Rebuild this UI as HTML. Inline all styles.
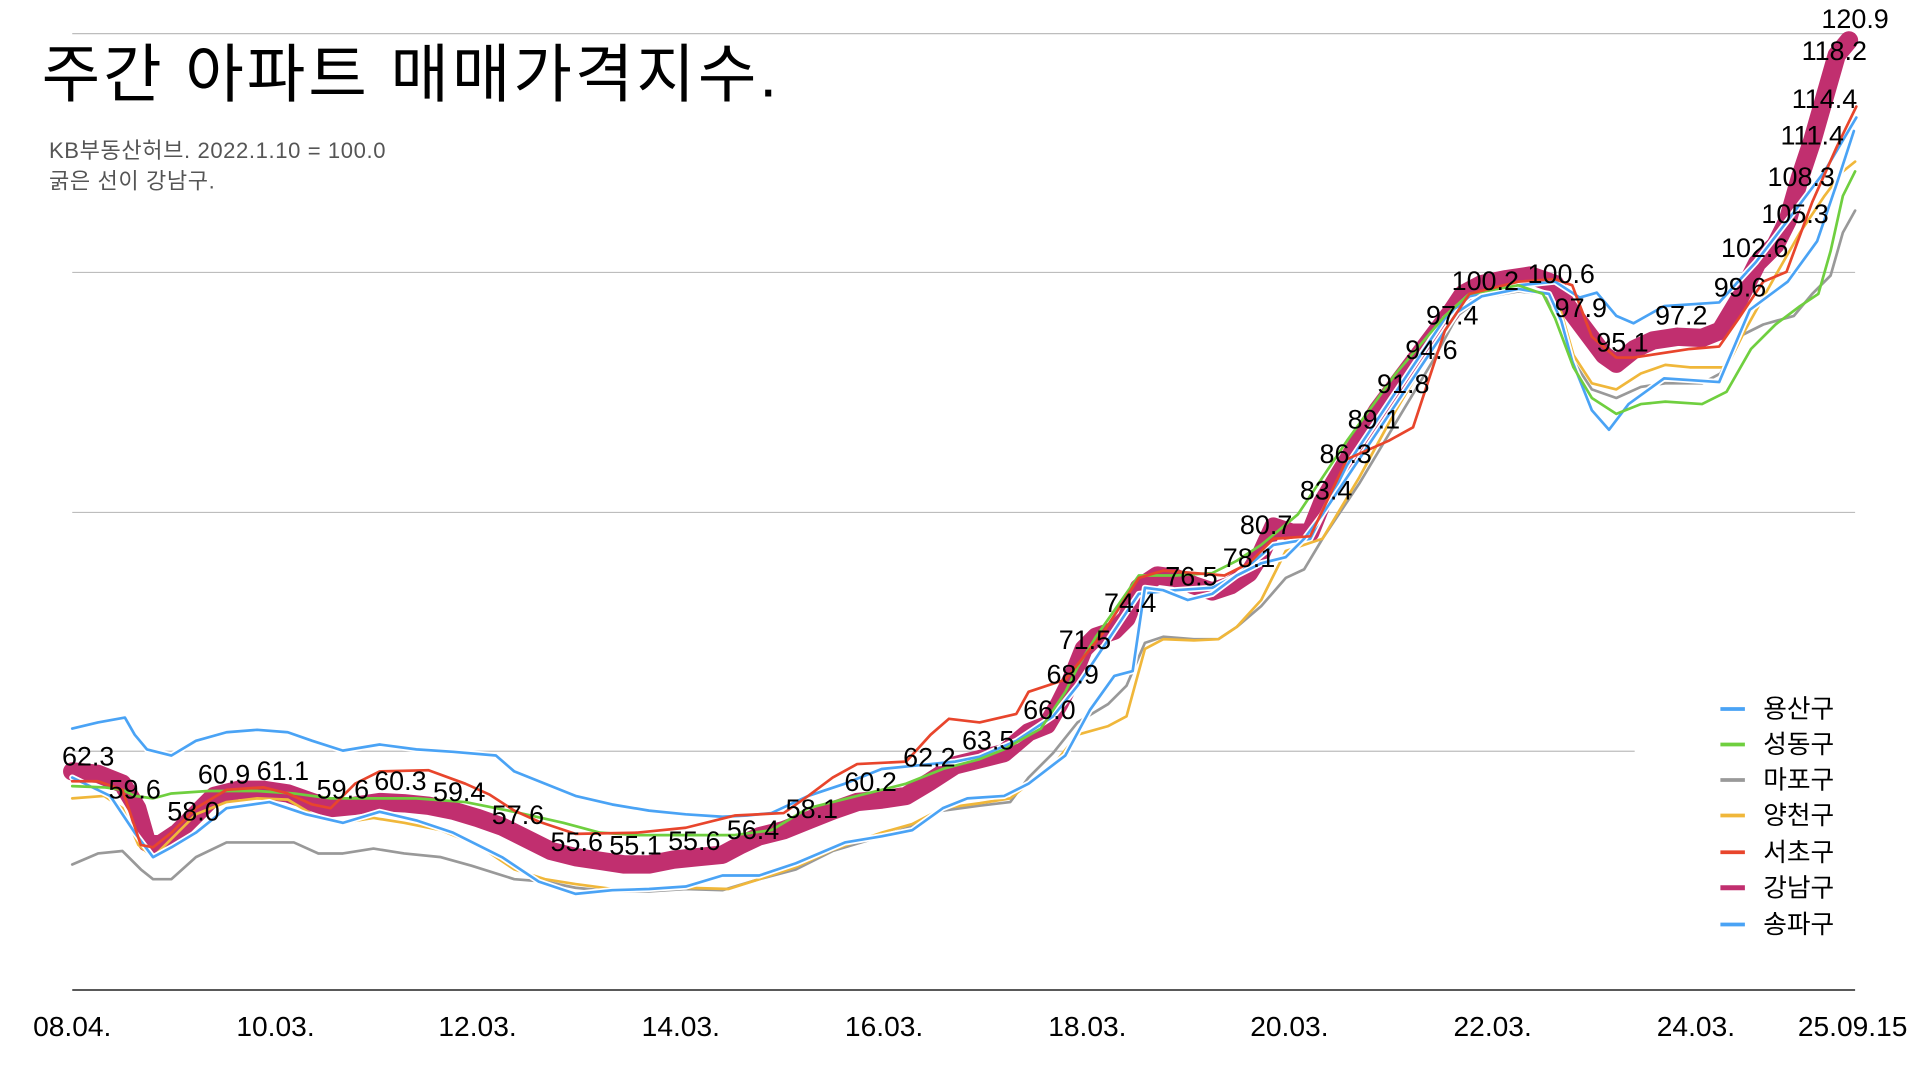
<!DOCTYPE html>
<html><head><meta charset="utf-8"><style>
html,body{margin:0;padding:0;background:#fff;}
svg{display:block;}
text{font-family:"Liberation Sans","Noto Sans CJK KR",sans-serif;}
</style></head><body>
<svg width="1920" height="1080" viewBox="0 0 1568 882" xmlns="http://www.w3.org/2000/svg">
<rect width="1568" height="882" fill="#fff"/>
<g stroke="#bdbdbd" stroke-width="1">
<line x1="59" y1="27.5" x2="1515" y2="27.5"/>
<line x1="59" y1="222.5" x2="1515" y2="222.5"/>
<line x1="59" y1="418.5" x2="1515" y2="418.5"/>
<line x1="59" y1="613.5" x2="1335" y2="613.5"/>
</g>
<line x1="59" y1="808.5" x2="1515" y2="808.5" stroke="#222" stroke-width="1.2"/>
<text x="34" y="79" font-size="52" fill="#000" letter-spacing="2.4">주간 아파트 매매가격지수.</text>
<text x="40" y="129" font-size="18" fill="#555" letter-spacing="0.5">KB부동산허브. 2022.1.10 = 100.0</text>
<text x="40" y="154" font-size="18" fill="#555" letter-spacing="0.5">굵은 선이 강남구.</text>
<g font-size="23" fill="#000" text-anchor="middle">
<text x="59" y="846">08.04.</text><text x="225" y="846">10.03.</text><text x="390" y="846">12.03.</text><text x="556" y="846">14.03.</text><text x="722" y="846">16.03.</text><text x="888" y="846">18.03.</text><text x="1053" y="846">20.03.</text><text x="1219" y="846">22.03.</text><text x="1385" y="846">24.03.</text><text x="1513" y="846">25.09.15</text>
</g>
<g fill="none" stroke-linejoin="round" stroke-linecap="round">
<polyline stroke="#c12f6f" stroke-width="15" points="59,630 80,632 100,640 112,660 120,688 130,690 145,680 160,665 175,650 195,645 215,645 235,648 255,655 270,660 290,658 310,655 330,656 350,658 370,662 390,668 410,675 430,685 450,695 470,700 490,703 510,706 530,706 550,702 570,700 590,698 605,690 620,683 640,678 660,670 680,662 700,655 720,653 740,650 760,638 780,625 800,620 820,615 840,598 855,592 865,575 875,555 885,530 895,520 910,515 920,505 930,480 945,470 960,472 975,478 990,483 1005,478 1020,468 1030,452 1040,430 1055,435 1070,435 1080,410 1095,385 1110,360 1125,335 1140,315 1155,295 1170,275 1185,255 1195,240 1210,232 1230,228 1250,225 1270,232 1280,250 1295,270 1310,290 1320,297 1335,285 1350,278 1370,275 1390,276 1405,270 1420,245 1435,215 1450,200 1460,180 1470,145 1480,115 1490,80 1500,45 1510,33"/>
<polyline stroke="#fff" stroke-width="5" points="59,595 80,590 102,586 110,600 120,612 140,617 160,605 185,598 210,596 235,598 255,605 280,613 310,608 340,612 370,614 405,617 420,630 445,640 470,650 500,657 530,662 560,665 590,667 610,666 630,664 660,650 690,640 720,628 750,625 780,622 800,618 830,605 860,585 880,560 900,530 930,485 960,482 990,480 1010,470 1040,445 1070,440 1100,380 1140,320 1180,260 1200,242 1240,233 1270,230 1290,243 1304,239 1320,258 1334,264 1359,250 1404,247 1434,214 1460,180 1490,140 1516,96"/>
<polyline stroke="#4aa3f5" stroke-width="2.2" points="59,595 80,590 102,586 110,600 120,612 140,617 160,605 185,598 210,596 235,598 255,605 280,613 310,608 340,612 370,614 405,617 420,630 445,640 470,650 500,657 530,662 560,665 590,667 610,666 630,664 660,650 690,640 720,628 750,625 780,622 800,618 830,605 860,585 880,560 900,530 930,485 960,482 990,480 1010,470 1040,445 1070,440 1100,380 1140,320 1180,260 1200,242 1240,233 1270,230 1290,243 1304,239 1320,258 1334,264 1359,250 1404,247 1434,214 1460,180 1490,140 1516,96"/>
<polyline stroke="#999" stroke-width="2.2" points="59,706 80,697 100,695 115,710 125,718 140,718 160,700 185,688 210,688 240,688 260,697 280,697 305,693 330,697 360,700 385,707 420,718 445,720 470,725 500,728 530,728 560,726 590,727 620,718 650,710 680,695 720,683 745,675 770,662 800,658 825,655 840,635 860,615 880,590 905,575 920,560 935,525 950,520 975,522 995,522 1010,512 1030,495 1050,472 1065,465 1080,440 1110,395 1140,345 1170,295 1190,258 1210,243 1240,238 1260,240 1275,260 1285,295 1300,318 1320,325 1340,316 1360,313 1390,313 1405,305 1420,275 1440,265 1465,258 1480,240 1495,225 1505,190 1515,172"/>
<polyline stroke="#f0b73a" stroke-width="2.2" points="59,652 85,650 100,660 113,690 125,700 140,685 160,665 185,655 210,652 235,653 255,665 280,672 305,668 330,672 360,678 390,690 420,710 445,718 470,722 500,726 530,727 560,725 595,726 620,718 650,708 680,694 720,680 745,673 770,660 800,656 825,652 840,640 860,625 880,600 905,593 920,585 935,530 950,522 975,523 995,522 1010,512 1030,490 1050,450 1080,440 1110,390 1140,335 1170,285 1190,255 1210,240 1240,235 1265,240 1275,255 1285,290 1300,313 1320,318 1340,305 1360,298 1380,300 1410,300 1425,270 1450,225 1470,190 1490,160 1505,140 1515,132"/>
<polyline stroke="#fff" stroke-width="5" points="59,635 90,650 110,680 125,700 140,692 160,680 185,660 220,655 250,665 280,672 310,663 340,670 370,680 410,700 440,720 470,730 500,727 530,726 560,724 590,715 620,715 650,705 690,688 720,683 745,678 770,660 790,652 820,650 840,640 870,617 890,580 910,552 925,548 935,480 950,482 970,490 990,485 1010,470 1030,460 1050,455 1065,440 1080,420 1110,375 1140,330 1170,285 1190,255 1210,242 1240,236 1265,240 1275,262 1284,295 1300,335 1314,351 1330,330 1359,309 1404,312 1429,253 1460,230 1484,197 1500,150 1514,107"/>
<polyline stroke="#4aa3f5" stroke-width="2.2" points="59,635 90,650 110,680 125,700 140,692 160,680 185,660 220,655 250,665 280,672 310,663 340,670 370,680 410,700 440,720 470,730 500,727 530,726 560,724 590,715 620,715 650,705 690,688 720,683 745,678 770,660 790,652 820,650 840,640 870,617 890,580 910,552 925,548 935,480 950,482 970,490 990,485 1010,470 1030,460 1050,455 1065,440 1080,420 1110,375 1140,330 1170,285 1190,255 1210,242 1240,236 1265,240 1275,262 1284,295 1300,335 1314,351 1330,330 1359,309 1404,312 1429,253 1460,230 1484,197 1500,150 1514,107"/>
<polyline stroke="#6fcf3f" stroke-width="2.2" points="59,642 85,643 100,645 110,650 125,652 140,648 170,646 210,646 240,648 270,652 300,652 340,652 380,655 420,663 460,672 490,680 520,682 560,682 600,682 630,678 660,660 700,650 740,640 770,628 800,620 820,612 850,595 870,565 880,545 895,520 930,470 960,470 990,468 1010,458 1030,445 1060,420 1100,360 1140,305 1180,258 1200,240 1240,233 1260,240 1270,260 1285,300 1300,325 1320,338 1340,330 1360,328 1390,330 1410,320 1430,285 1450,265 1470,250 1485,240 1495,205 1505,160 1515,140"/>
<polyline stroke="#e8452c" stroke-width="2.2" points="59,638 80,638 100,645 115,690 125,692 140,680 160,660 185,645 215,643 235,648 255,657 270,660 290,640 310,630 350,629 380,640 400,649 420,662 440,671 470,681 520,680 560,676 600,666 640,664 660,650 680,635 700,624 740,622 760,600 775,587 800,590 830,583 840,565 870,555 900,518 930,472 950,466 1000,470 1020,460 1040,440 1070,438 1100,375 1134,360 1154,349 1180,270 1200,240 1240,230 1270,228 1284,233 1300,275 1320,292 1334,292 1380,285 1404,283 1420,260 1440,230 1459,222 1480,165 1500,120 1516,87"/>
</g>
<g font-size="22" fill="#000" text-anchor="middle">
<text x="72" y="625">62.3</text><text x="110" y="652">59.6</text><text x="158" y="670">58.0</text><text x="183" y="640">60.9</text><text x="231" y="637">61.1</text><text x="280" y="652">59.6</text><text x="327" y="645">60.3</text><text x="375" y="654">59.4</text><text x="423" y="673">57.6</text><text x="471" y="695">55.6</text><text x="519" y="698">55.1</text><text x="567" y="694">55.6</text><text x="615" y="685">56.4</text><text x="663" y="668">58.1</text><text x="711" y="646">60.2</text><text x="759" y="626">62.2</text><text x="807" y="612">63.5</text><text x="857" y="587">66.0</text><text x="876" y="558">68.9</text><text x="886" y="530">71.5</text><text x="923" y="500">74.4</text><text x="973" y="478">76.5</text><text x="1020" y="463">78.1</text><text x="1034" y="436">80.7</text><text x="1083" y="408">83.4</text><text x="1099" y="378">86.3</text><text x="1122" y="350">89.1</text><text x="1146" y="321">91.8</text><text x="1169" y="293">94.6</text><text x="1186" y="265">97.4</text><text x="1213" y="237">100.2</text><text x="1275" y="231">100.6</text><text x="1291" y="259">97.9</text><text x="1325" y="287">95.1</text><text x="1373" y="265">97.2</text><text x="1421" y="242">99.6</text><text x="1433" y="210">102.6</text><text x="1466" y="182">105.3</text><text x="1471" y="152">108.3</text><text x="1480" y="118">111.4</text><text x="1490" y="88">114.4</text><text x="1498" y="49">118.2</text><text x="1515" y="23">120.9</text>
</g>
<g stroke-width="3">
<line x1="1405" y1="579" x2="1425" y2="579" stroke="#4aa3f5"/>
<line x1="1405" y1="608" x2="1425" y2="608" stroke="#6fcf3f"/>
<line x1="1405" y1="637" x2="1425" y2="637" stroke="#999"/>
<line x1="1405" y1="666" x2="1425" y2="666" stroke="#f0b73a"/>
<line x1="1405" y1="696" x2="1425" y2="696" stroke="#e8452c"/>
<line x1="1405" y1="725" x2="1425" y2="725" stroke="#c12f6f" stroke-width="4"/>
<line x1="1405" y1="755" x2="1425" y2="755" stroke="#4aa3f5"/>
</g>
<g font-size="21" fill="#000">
<text x="1440" y="586">용산구</text><text x="1440" y="615">성동구</text><text x="1440" y="644">마포구</text><text x="1440" y="673">양천구</text><text x="1440" y="703">서초구</text><text x="1440" y="732">강남구</text><text x="1440" y="762">송파구</text>
</g>
</svg>
</body></html>
